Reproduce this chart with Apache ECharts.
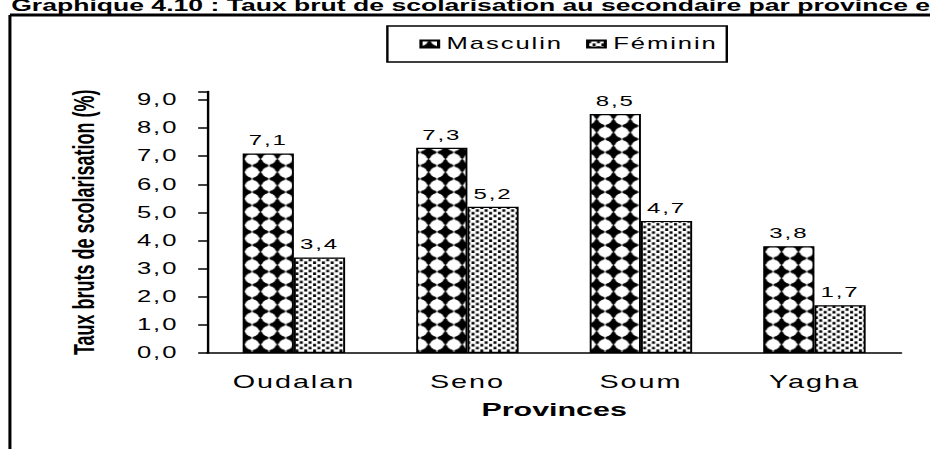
<!DOCTYPE html>
<html>
<head>
<meta charset="utf-8">
<script src="https://cdn.jsdelivr.net/npm/echarts@6/dist/echarts.min.js"></script>
<style>
  html, body { margin: 0; padding: 0; background: #fff; overflow: hidden; }
  /* the reference is a horizontally stretched scan, so the chart is drawn narrow and stretched */
  #chart { width: 581px; height: 449px; transform: scaleX(1.6007); transform-origin: 0 0; }
  #chart text { letter-spacing: 1.2px; }
  #chart text[style*="bold"] { letter-spacing: 0; }
</style>
</head>
<body>
<div id="chart"></div>
<script>
const titleText = "Graphique 4.10 : Taux brut de scolarisation au secondaire par province en";
const provinces = ["Oudalan", "Seno", "Soum", "Yagha"];
const masculin = [7.1, 7.3, 8.5, 3.8];
const feminin = [3.4, 5.2, 4.7, 1.7];
const seriesNames = ["Masculin", "Féminin"];

const comma = (v) => v.toFixed(1).replace(".", ",");

// small repeated tiles for the hatch fills
function makeTile(w, h, draw) {
  const k = 4;
  const c = document.createElement("canvas");
  c.width = Math.round(w * k);
  c.height = Math.round(h * k);
  const ctx = c.getContext("2d");
  ctx.scale(k, k);
  draw(ctx, w, h);
  return { image: c, repeat: "repeat", imageWidth: w, imageHeight: h };
}

const diamonds = makeTile(10.5, 13.25, (ctx, w, h) => {
  ctx.fillStyle = "#fff";
  ctx.fillRect(0, 0, w, h);
  ctx.fillStyle = "#000";
  ctx.beginPath();
  ctx.moveTo(w / 2, 0);
  ctx.lineTo(w, h / 2);
  ctx.lineTo(w / 2, h);
  ctx.lineTo(0, h / 2);
  ctx.closePath();
  ctx.fill();
  ctx.fillStyle = "#fff";
  [[0, 0], [w, 0], [0, h], [w, h]].forEach(([cx, cy]) => {
    ctx.beginPath();
    ctx.ellipse(cx, cy, w * 0.41, h * 0.41, 0, 0, Math.PI * 2);
    ctx.fill();
  });
});

const dots = makeTile(5.5, 5.5, (ctx, w, h) => {
  ctx.fillStyle = "#fff";
  ctx.fillRect(0, 0, w, h);
  ctx.fillStyle = "#000";
  ctx.fillRect(0.3, 0.3, 1.9, 2.5);
  ctx.fillRect(3.05, 3.05, 1.9, 2.5);
});

const chart = echarts.init(document.getElementById("chart"), null, { renderer: "svg" });

const labelStyle = {
  show: true,
  position: "top",
  distance: 6,
  color: "#000",
  fontSize: 15,
  fontFamily: "Liberation Sans",
  formatter: (p) => comma(p.value),
};

chart.setOption({
  backgroundColor: "#fff",
  animation: false,
  title: {
    text: titleText,
    left: 7,
    top: -3.5,
    padding: 0,
    textStyle: { fontSize: 16.6, fontWeight: "bold", color: "#000", fontFamily: "Liberation Sans" },
  },
  graphic: [
    { type: "line", shape: { x1: 6.2, y1: 15, x2: 600, y2: 15 }, style: { stroke: "#000", lineWidth: 3 } },
    { type: "line", shape: { x1: 6.2, y1: 15, x2: 6.2, y2: 470 }, style: { stroke: "#000", lineWidth: 1.9 } },
  ],
  legend: {
    data: seriesNames,
    left: 242,
    top: 26,
    padding: [10, 14, 10, 20],
    itemGap: 24,
    itemWidth: 11,
    itemHeight: 7,
    icon: "rect",
    borderColor: "#000",
    borderWidth: 1.5,
    textStyle: { fontSize: 16, color: "#000", fontFamily: "Liberation Sans" },
  },
  grid: { left: 129.4, right: 18, top: 91.6, bottom: 96 },
  xAxis: {
    type: "category",
    data: provinces,
    axisLine: { lineStyle: { color: "#000", width: 1.5 } },
    axisTick: { length: 4, lineStyle: { color: "#000", width: 1.3 } },
    axisLabel: { fontSize: 18, margin: 20, color: "#000", fontFamily: "Liberation Sans" },
    name: "Provinces",
    nameLocation: "middle",
    nameGap: 47,
    nameTextStyle: { fontSize: 19, fontWeight: "bold", color: "#000", fontFamily: "Liberation Sans" },
  },
  yAxis: {
    type: "value",
    min: 0,
    max: 9.3,
    interval: 1,
    splitLine: { show: false },
    axisLine: { show: true, lineStyle: { color: "#000", width: 1.5 } },
    axisTick: { show: true, length: 5.6, lineStyle: { color: "#000", width: 1.5 } },
    axisLabel: {
      fontSize: 16,
      margin: 18,
      color: "#000",
      fontFamily: "Liberation Sans",
      formatter: (v) => (Number.isInteger(v) ? comma(v) : ""),
    },
    name: "Taux bruts de scolarisation (%)",
    nameLocation: "middle",
    nameGap: 68,
    nameRotate: 90,
    nameTextStyle: { fontSize: 18, fontWeight: "bold", color: "#000", fontFamily: "Liberation Sans" },
  },
  series: [
    {
      name: seriesNames[0],
      type: "bar",
      data: masculin,
      barWidth: 32,
      barGap: "0%",
      itemStyle: { color: diamonds, borderColor: "#000", borderWidth: 1.2 },
      label: labelStyle,
    },
    {
      name: seriesNames[1],
      type: "bar",
      data: feminin,
      barWidth: 32,
      barGap: "0%",
      itemStyle: { color: dots, borderColor: "#000", borderWidth: 1.2 },
      label: labelStyle,
    },
  ],
});
</script>
</body>
</html>
